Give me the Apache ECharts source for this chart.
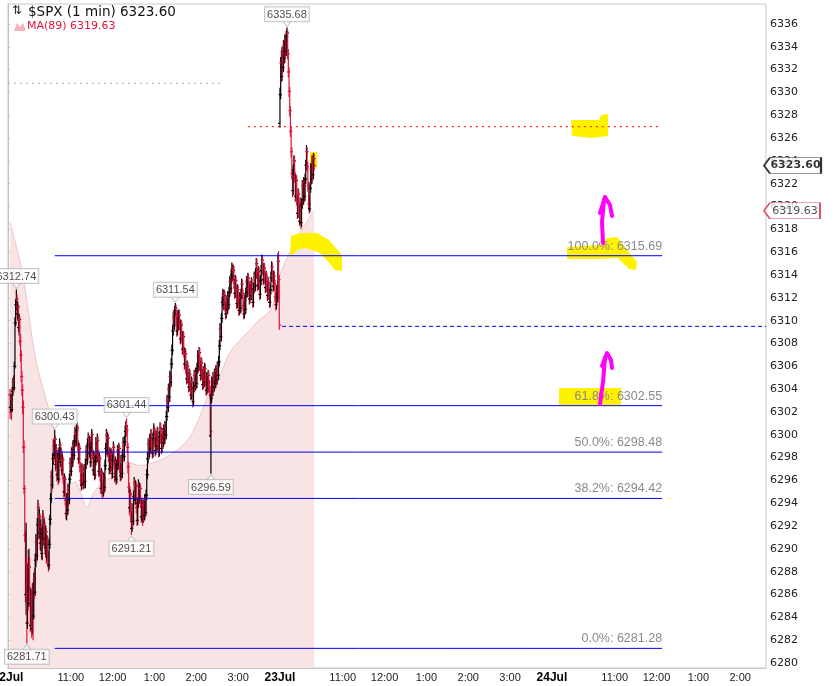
<!DOCTYPE html>
<html>
<head>
<meta charset="utf-8">
<title>$SPX (1 min)</title>
<script src="https://cdn.jsdelivr.net/npm/echarts@6/dist/echarts.min.js"></script>
<style>
html, body { margin: 0; padding: 0; background: #fff; }
#chart { width: 839px; height: 686px; }
</style>
</head>
<body>
<div id="chart"></div>
<script>
"use strict";

// minute index: 0 = Jul 22 9:30, 390 = Jul 23 9:30, 780 = Jul 24 9:30
var START_IDX = 3;
var X_MIN = 0;
var X_MAX = 1087;

// 1-min bars, [open, close, low, high], from START_IDX on
var bars = [
	[6303.5,6302.4,6301.4,6304.0],[6302.4,6303.1,6301.9,6303.6],[6303.1,6302.2,6301.3,6303.5],[6302.2,6303.8,6302.0,6304.2],
	[6303.8,6304.6,6303.4,6305.0],[6304.6,6304.1,6303.6,6305.2],[6304.1,6306.0,6303.9,6306.4],[6306.0,6309.8,6305.8,6310.3],
	[6309.8,6311.4,6309.5,6311.9],[6311.4,6311.9,6310.9,6312.74],[6311.9,6310.6,6310.2,6312.3],[6310.6,6311.2,6310.0,6311.7],
	[6311.2,6309.4,6309.0,6311.4],[6309.4,6310.1,6308.7,6310.6],[6310.1,6308.2,6307.8,6310.4],[6308.2,6307.0,6306.4,6308.8],
	[6307.0,6305.1,6304.6,6307.4],[6305.1,6303.9,6303.4,6305.6],[6303.9,6302.4,6301.8,6304.4],[6302.4,6298.9,6298.4,6303.0],
	[6298.9,6295.3,6294.8,6299.5],[6295.3,6291.2,6290.6,6295.6],[6291.2,6286.0,6285.3,6291.6],[6286.0,6288.7,6284.2,6292.3],
	[6288.7,6283.5,6281.71,6289.2],[6283.5,6287.9,6283.0,6288.6],[6287.9,6285.2,6284.6,6289.9],[6285.2,6288.4,6284.9,6290.0],
	[6288.4,6286.1,6285.5,6289.3],[6286.1,6283.3,6282.7,6286.7],[6283.3,6285.8,6282.9,6286.5],[6285.8,6283.0,6282.2,6286.2],
	[6283.0,6286.4,6282.5,6287.0],[6286.4,6284.1,6282.0,6287.1],[6284.1,6287.3,6283.8,6287.9],[6287.3,6286.2,6285.6,6288.3],
	[6286.2,6289.0,6285.9,6289.6],[6289.0,6290.6,6288.4,6291.3],[6290.6,6289.4,6288.8,6291.0],[6289.4,6292.1,6289.0,6292.7],
	[6292.1,6293.6,6291.6,6294.3],[6293.6,6291.4,6290.8,6294.0],[6291.4,6292.8,6290.9,6293.5],[6292.8,6290.5,6289.9,6293.1],
	[6290.5,6291.9,6289.8,6292.6],[6291.9,6289.6,6289.1,6292.2],[6289.6,6291.3,6289.0,6291.9],[6291.3,6292.7,6290.8,6293.4],
	[6292.7,6290.9,6290.3,6293.1],[6290.9,6292.0,6290.2,6292.6],[6292.0,6290.1,6289.5,6292.4],[6290.1,6291.5,6289.4,6292.0],
	[6291.5,6289.3,6288.7,6291.8],[6289.3,6290.6,6288.9,6291.2],[6290.6,6289.0,6288.4,6291.1],[6289.0,6288.6,6288.0,6289.8],
	[6288.6,6290.4,6288.2,6290.9],[6290.4,6292.6,6290.0,6293.0],[6292.6,6294.4,6292.1,6294.9],[6294.4,6296.3,6294.0,6296.8],
	[6296.3,6295.6,6295.0,6297.0],[6295.6,6297.9,6295.3,6298.4],[6297.9,6299.0,6297.4,6299.6],[6299.0,6298.2,6297.6,6299.7],
	[6298.2,6299.6,6297.9,6300.43],[6299.6,6297.4,6296.8,6299.9],[6297.4,6298.6,6297.0,6299.2],[6298.6,6296.5,6295.9,6298.9],
	[6296.5,6297.8,6296.1,6298.4],[6297.8,6296.1,6295.6,6298.2],[6296.1,6298.3,6295.8,6298.9],[6298.3,6299.1,6297.8,6299.7],
	[6299.1,6297.6,6297.1,6299.4],[6297.6,6298.4,6297.2,6298.9],[6298.4,6296.9,6296.4,6298.7],[6296.9,6297.8,6296.5,6298.3],
	[6297.8,6296.2,6295.7,6298.1],[6296.2,6295.0,6294.5,6296.6],[6295.0,6296.1,6294.6,6296.6],[6296.1,6294.3,6293.8,6296.4],
	[6294.3,6293.1,6292.6,6294.7],[6293.1,6294.4,6292.5,6294.9],[6294.4,6293.4,6292.9,6294.8],[6293.4,6295.2,6293.0,6295.7],
	[6295.2,6294.3,6293.8,6295.6],[6294.3,6296.1,6293.9,6296.6],[6296.1,6297.5,6295.7,6298.0],[6297.5,6296.8,6296.3,6297.9],
	[6296.8,6298.4,6296.4,6298.9],[6298.4,6297.6,6297.1,6298.8],[6297.6,6299.0,6297.2,6299.5],[6299.0,6298.2,6297.7,6299.4],
	[6298.2,6299.5,6297.8,6300.0],[6299.5,6300.2,6299.1,6300.7],[6300.2,6299.4,6298.9,6300.6],[6299.4,6300.4,6299.0,6300.9],
	[6300.4,6300.6,6299.9,6301.1],[6300.6,6299.1,6298.6,6300.9],[6299.1,6297.9,6297.4,6299.5],[6297.9,6298.8,6297.5,6299.3],
	[6298.8,6297.2,6296.7,6299.1],[6297.2,6296.0,6295.5,6297.6],[6296.0,6295.6,6295.1,6296.6],[6295.6,6297.0,6295.2,6297.5],
	[6297.0,6296.2,6295.7,6297.4],[6296.2,6295.7,6295.2,6296.7],[6295.7,6296.9,6295.3,6297.4],[6296.9,6295.9,6295.4,6297.3],
	[6295.9,6297.4,6295.3,6297.9],[6297.4,6298.6,6297.0,6299.1],[6298.6,6297.8,6297.3,6299.0],[6297.8,6299.2,6297.4,6299.7],
	[6299.2,6299.7,6298.8,6300.2],[6299.7,6298.4,6297.9,6300.0],[6298.4,6299.4,6298.0,6299.9],[6299.4,6297.6,6297.1,6299.8],
	[6297.6,6298.9,6297.2,6299.4],[6298.9,6300.0,6298.5,6300.5],[6300.0,6298.3,6297.8,6300.3],[6298.3,6296.9,6296.4,6298.7],
	[6296.9,6298.1,6296.5,6298.6],[6298.1,6296.5,6296.0,6298.4],[6296.5,6297.7,6296.1,6298.2],[6297.7,6299.2,6297.3,6299.8],
	[6299.2,6298.0,6297.5,6299.5],[6298.0,6299.5,6297.6,6300.1],[6299.5,6298.3,6297.8,6299.9],[6298.3,6296.8,6296.3,6298.7],
	[6296.8,6297.9,6296.4,6298.4],[6297.9,6296.4,6295.9,6298.2],[6296.4,6295.3,6294.8,6296.8],[6295.3,6296.6,6294.9,6297.1],
	[6296.6,6295.0,6294.5,6296.9],[6295.0,6294.9,6294.4,6295.9],[6294.9,6296.2,6294.6,6296.7],[6296.2,6295.4,6294.9,6296.6],
	[6295.4,6297.3,6295.0,6297.8],[6297.3,6298.8,6296.9,6299.3],[6298.8,6300.0,6298.3,6300.5],[6300.0,6298.6,6298.1,6300.4],
	[6298.6,6299.7,6298.2,6300.2],[6299.7,6298.1,6297.6,6300.0],[6298.1,6297.0,6296.5,6298.5],[6297.0,6298.4,6296.6,6298.9],
	[6298.4,6297.2,6296.7,6298.8],[6297.2,6298.3,6296.8,6298.8],[6298.3,6296.6,6296.1,6298.7],[6296.6,6297.8,6296.2,6298.3],
	[6297.8,6298.9,6297.4,6299.4],[6298.9,6297.5,6297.0,6299.2],[6297.5,6296.3,6295.8,6297.9],[6296.3,6297.6,6295.9,6298.1],
	[6297.6,6296.1,6295.6,6297.9],[6296.1,6297.3,6295.7,6297.8],[6297.3,6298.6,6296.9,6299.1],[6298.6,6297.4,6296.9,6298.9],
	[6297.4,6298.8,6297.0,6299.3],[6298.8,6297.1,6296.6,6299.1],[6297.1,6296.4,6295.9,6297.5],[6296.4,6297.7,6296.0,6298.2],
	[6297.7,6296.6,6296.1,6298.0],[6296.6,6298.2,6296.2,6298.7],[6298.2,6299.3,6297.8,6299.8],[6299.3,6298.1,6297.6,6299.6],
	[6298.1,6299.4,6297.7,6299.9],[6299.4,6300.3,6299.0,6300.8],[6300.3,6300.8,6299.8,6301.2],[6300.8,6300.4,6299.9,6301.44],
	[6300.4,6298.9,6298.4,6300.8],[6298.9,6297.2,6296.6,6299.3],[6297.2,6295.4,6294.9,6297.6],[6295.4,6293.6,6293.0,6295.8],
	[6293.6,6294.8,6293.2,6295.3],[6294.8,6292.9,6292.3,6295.1],[6292.9,6291.8,6291.21,6293.3],[6291.8,6293.5,6291.5,6294.0],
	[6293.5,6292.4,6291.9,6293.9],[6292.4,6294.6,6292.1,6295.1],[6294.6,6295.8,6294.2,6296.3],[6295.8,6294.3,6293.8,6296.1],
	[6294.3,6295.5,6293.9,6296.0],[6295.5,6293.6,6293.1,6295.8],[6293.6,6292.5,6292.0,6294.0],[6292.5,6294.0,6292.1,6294.5],
	[6294.0,6295.6,6293.6,6296.1],[6295.6,6294.4,6293.9,6295.9],[6294.4,6295.3,6294.0,6295.8],[6295.3,6294.1,6293.6,6295.6],
	[6294.1,6292.8,6292.3,6294.5],[6292.8,6293.9,6292.4,6294.4],[6293.9,6292.6,6292.0,6294.2],[6292.6,6293.8,6292.3,6294.3],
	[6293.8,6292.9,6292.4,6294.2],[6292.9,6294.3,6292.5,6294.8],[6294.3,6293.2,6292.7,6294.6],[6293.2,6294.7,6292.9,6295.2],
	[6294.7,6296.5,6294.3,6297.0],[6296.5,6297.9,6296.1,6298.4],[6297.9,6299.2,6297.5,6299.7],[6299.2,6298.4,6297.9,6299.6],
	[6298.4,6299.6,6298.0,6300.1],[6299.6,6298.8,6298.3,6300.0],[6298.8,6300.0,6298.4,6300.5],[6300.0,6299.2,6298.7,6300.4],
	[6299.2,6298.4,6297.9,6299.6],[6298.4,6299.7,6298.0,6300.2],[6299.7,6300.5,6299.3,6301.0],[6300.5,6299.4,6298.9,6300.8],
	[6299.4,6298.6,6298.1,6299.8],[6298.6,6299.9,6298.2,6300.4],[6299.9,6299.0,6298.5,6300.3],[6299.0,6300.2,6298.6,6300.7],
	[6300.2,6299.3,6298.8,6300.6],[6299.3,6298.5,6298.0,6299.7],[6298.5,6299.8,6298.1,6300.3],[6299.8,6300.6,6299.4,6301.1],
	[6300.6,6299.7,6299.2,6301.0],[6299.7,6298.8,6298.3,6300.1],[6298.8,6300.1,6298.4,6300.6],[6300.1,6299.3,6298.8,6300.5],
	[6299.3,6300.4,6298.9,6300.9],[6300.4,6299.6,6299.1,6300.8],[6299.6,6300.7,6299.2,6301.2],[6300.7,6300.0,6299.5,6301.1],
	[6300.0,6301.6,6299.6,6302.1],[6301.6,6303.0,6301.2,6303.5],[6303.0,6302.4,6301.9,6303.4],[6302.4,6304.0,6302.0,6304.5],
	[6304.0,6303.3,6302.8,6304.4],[6303.3,6305.1,6302.9,6305.6],[6305.1,6304.6,6304.1,6305.5],[6304.6,6306.2,6304.2,6306.7],
	[6306.2,6307.4,6305.8,6307.9],[6307.4,6309.1,6307.0,6309.6],[6309.1,6310.3,6308.7,6310.8],[6310.3,6309.6,6309.1,6310.9],
	[6309.6,6310.9,6309.2,6311.3],[6310.9,6311.1,6310.4,6311.54],[6311.1,6310.2,6309.7,6311.4],[6310.2,6309.1,6308.6,6310.6],
	[6309.1,6310.4,6308.7,6310.9],[6310.4,6309.6,6309.1,6310.8],[6309.6,6310.5,6309.2,6311.0],[6310.5,6309.7,6309.2,6310.9],
	[6309.7,6308.4,6307.9,6310.1],[6308.4,6309.6,6308.0,6310.1],[6309.6,6308.7,6308.2,6310.0],[6308.7,6307.5,6307.0,6309.1],
	[6307.5,6308.6,6307.1,6309.1],[6308.6,6307.3,6306.8,6309.0],[6307.3,6306.2,6305.7,6307.7],[6306.2,6307.1,6305.8,6307.6],
	[6307.1,6305.8,6305.3,6307.5],[6305.8,6304.9,6304.4,6306.2],[6304.9,6306.0,6304.5,6306.5],[6306.0,6305.1,6304.6,6306.4],
	[6305.1,6304.2,6303.7,6305.5],[6304.2,6305.3,6303.8,6305.8],[6305.3,6304.3,6303.8,6305.7],[6304.3,6303.5,6303.0,6304.7],
	[6303.5,6304.6,6303.1,6305.1],[6304.6,6303.8,6303.3,6305.0],[6303.8,6302.9,6302.4,6304.2],[6302.9,6304.1,6302.5,6304.6],
	[6304.1,6305.2,6303.7,6305.7],[6305.2,6304.3,6303.8,6305.6],[6304.3,6305.4,6303.9,6305.9],[6305.4,6304.5,6304.0,6305.8],
	[6304.5,6305.8,6304.1,6306.3],[6305.8,6306.9,6305.4,6307.4],[6306.9,6306.0,6305.5,6307.3],[6306.0,6307.2,6305.6,6307.7],
	[6307.2,6306.1,6305.6,6307.6],[6306.1,6305.2,6304.7,6306.5],[6305.2,6306.3,6304.8,6306.8],[6306.3,6305.3,6304.8,6306.7],
	[6305.3,6304.4,6303.9,6305.7],[6304.4,6305.5,6304.0,6306.0],[6305.5,6304.6,6304.1,6305.9],[6304.6,6305.8,6304.2,6306.3],
	[6305.8,6304.8,6304.3,6306.2],[6304.8,6303.9,6303.4,6305.2],[6303.9,6305.0,6303.5,6305.5],[6305.0,6304.1,6303.6,6305.4],
	[6304.1,6305.2,6303.7,6305.7],[6305.2,6304.2,6303.7,6305.6],[6304.2,6303.8,6303.3,6304.8],[6303.8,6300.3,6299.8,6304.2],
	[6299.9,6303.2,6296.59,6303.6],[6303.2,6304.6,6302.8,6305.1],[6304.6,6303.8,6303.3,6305.0],[6303.8,6305.0,6303.4,6305.5],
	[6305.0,6304.2,6303.7,6305.4],[6304.2,6305.3,6303.8,6305.8],[6305.3,6304.5,6304.0,6305.7],[6304.5,6305.6,6304.1,6306.1],
	[6305.6,6304.8,6304.3,6306.0],[6304.8,6305.9,6304.4,6306.4],[6305.9,6305.2,6304.7,6306.3],[6305.2,6306.4,6304.8,6306.9],
	[6306.4,6307.8,6306.0,6308.3],[6307.8,6309.3,6307.4,6309.8],[6309.3,6308.6,6308.1,6309.7],[6308.6,6310.2,6308.2,6310.7],
	[6310.2,6311.6,6309.8,6312.1],[6311.6,6312.3,6311.2,6312.8],[6312.3,6311.4,6310.9,6312.7],[6311.4,6312.2,6311.0,6312.7],
	[6312.2,6311.3,6310.8,6312.6],[6311.3,6310.6,6310.1,6311.7],[6310.6,6311.7,6310.2,6312.2],[6311.7,6311.0,6310.5,6312.1],
	[6311.0,6312.1,6310.6,6312.6],[6312.1,6311.4,6310.9,6312.5],[6311.4,6312.5,6311.0,6313.0],[6312.5,6313.4,6312.1,6313.9],
	[6313.4,6312.8,6312.3,6313.8],[6312.8,6314.0,6312.4,6314.5],[6314.0,6314.6,6313.6,6315.1],[6314.6,6313.9,6313.4,6315.0],
	[6313.9,6314.4,6313.5,6314.9],[6314.4,6313.3,6312.8,6314.8],[6313.3,6312.4,6311.9,6313.7],[6312.4,6313.5,6312.0,6314.0],
	[6313.5,6312.6,6312.1,6313.9],[6312.6,6311.5,6311.0,6313.0],[6311.5,6312.7,6311.1,6313.2],[6312.7,6311.8,6311.3,6313.1],
	[6311.8,6310.9,6310.4,6312.2],[6310.9,6312.0,6310.5,6312.5],[6312.0,6311.1,6310.6,6312.4],[6311.1,6312.3,6310.7,6312.8],
	[6312.3,6313.2,6311.9,6313.7],[6313.2,6312.4,6311.9,6313.6],[6312.4,6311.3,6310.8,6312.8],[6311.3,6310.6,6310.1,6311.7],
	[6310.6,6311.8,6310.2,6312.3],[6311.8,6311.0,6310.5,6312.2],[6311.0,6312.4,6310.6,6312.9],[6312.4,6313.4,6312.0,6313.9],
	[6313.4,6312.5,6312.0,6313.8],[6312.5,6313.7,6312.1,6314.2],[6313.7,6312.8,6312.3,6314.1],[6312.8,6311.9,6311.4,6313.2],
	[6311.9,6313.0,6311.5,6313.5],[6313.0,6312.2,6311.7,6313.4],[6312.2,6313.3,6311.8,6313.8],[6313.3,6312.4,6311.9,6313.7],
	[6312.4,6311.6,6311.1,6312.8],[6311.6,6312.8,6311.2,6313.3],[6312.8,6313.8,6312.4,6314.3],[6313.8,6313.0,6312.5,6314.2],
	[6313.0,6314.1,6312.6,6314.6],[6314.1,6315.0,6313.7,6315.5],[6315.0,6314.2,6313.7,6315.4],[6314.2,6313.1,6312.6,6314.6],
	[6313.1,6314.3,6312.7,6314.8],[6314.3,6313.4,6312.9,6314.7],[6313.4,6312.3,6311.8,6313.8],[6312.3,6313.5,6311.9,6314.0],
	[6313.5,6314.4,6313.1,6314.9],[6314.4,6315.3,6314.0,6315.8],[6315.3,6314.5,6314.0,6315.7],[6314.5,6313.6,6313.1,6314.9],
	[6313.6,6314.6,6313.2,6315.1],[6314.6,6313.8,6313.3,6315.0],[6313.8,6312.9,6312.4,6314.2],[6312.9,6313.9,6312.5,6314.4],
	[6313.9,6313.1,6312.6,6314.3],[6313.1,6312.2,6311.7,6313.5],[6312.2,6313.3,6311.8,6313.8],[6313.3,6312.4,6311.9,6313.7],
	[6312.4,6311.6,6311.1,6312.8],[6311.6,6312.7,6311.2,6313.2],[6312.7,6313.8,6312.3,6314.3],[6313.8,6314.7,6313.4,6315.2],
	[6314.7,6313.9,6313.4,6315.1],[6313.9,6313.0,6312.5,6314.3],[6313.0,6313.9,6312.6,6314.4],[6313.9,6313.2,6312.7,6314.3],
	[6313.2,6312.1,6311.6,6313.6],[6312.1,6311.4,6310.9,6312.5],[6311.4,6312.6,6311.0,6313.1],[6312.6,6312.0,6311.5,6313.0],
	[6312.0,6315.2,6311.6,6315.9],[6315.2,6313.6,6311.8,6316.1],[6313.6,6309.6,6309.2,6314.0],
	// Jul 23
	[6327.3,6329.8,6326.9,6330.4],[6329.8,6332.6,6329.4,6333.1],[6332.6,6331.4,6330.9,6333.7],[6331.4,6333.5,6331.0,6334.0],
	[6333.5,6332.2,6331.7,6333.9],[6332.2,6334.1,6331.8,6334.6],[6334.1,6333.0,6332.5,6334.5],[6333.0,6334.6,6332.6,6335.1],
	[6334.6,6333.6,6333.1,6335.0],[6333.6,6334.9,6333.2,6335.4],[6334.9,6335.2,6334.5,6335.68],[6335.2,6333.4,6332.9,6335.5],
	[6333.4,6331.8,6331.3,6333.8],[6331.8,6330.1,6329.6,6332.2],[6330.1,6328.4,6327.9,6330.5],[6328.4,6326.6,6326.1,6328.8],
	[6326.6,6324.8,6324.3,6327.0],[6324.8,6322.9,6322.4,6325.2],[6322.9,6321.4,6320.8,6323.3],[6321.4,6323.2,6321.0,6323.7],
	[6323.2,6324.0,6322.8,6324.5],[6324.0,6322.6,6322.1,6324.4],[6322.6,6320.9,6320.4,6323.0],[6320.9,6322.3,6320.5,6322.8],
	[6322.3,6320.6,6320.1,6322.7],[6320.6,6319.4,6318.9,6321.0],[6319.4,6321.1,6319.0,6321.6],[6321.1,6319.8,6319.3,6321.5],
	[6319.8,6318.7,6318.3,6320.2],[6318.7,6320.3,6318.4,6320.8],[6320.3,6318.6,6318.0,6320.7],[6318.6,6320.2,6318.2,6320.7],
	[6320.2,6321.8,6319.8,6322.3],[6321.8,6320.6,6320.1,6322.2],[6320.6,6322.1,6320.2,6322.6],[6322.1,6320.9,6320.4,6322.5],
	[6320.9,6322.4,6320.5,6322.9],[6322.4,6323.6,6322.0,6324.1],[6323.6,6324.8,6323.2,6325.4],[6324.8,6323.5,6323.0,6325.2],
	[6323.5,6321.8,6321.3,6323.9],[6321.8,6320.2,6319.7,6322.2],[6320.2,6319.8,6319.4,6321.0],[6319.8,6321.6,6319.5,6322.1],
	[6321.6,6323.3,6321.2,6323.8],[6323.3,6322.4,6321.9,6323.7],[6322.4,6324.0,6322.0,6324.5],[6324.0,6322.8,6322.3,6324.4],
	[6322.8,6324.2,6322.4,6324.7],[6324.2,6323.6,6323.1,6324.6]
];

var maIdx  = [3, 20, 40, 55, 65, 72, 89, 96, 105, 113, 122, 132, 150, 170, 190, 210, 232, 261, 289, 304, 318, 333, 347, 361, 375, 383, 390, 404, 418, 432, 439];
var maVals = [6318.6, 6314.4, 6306.5, 6303.0, 6300.8, 6297.6, 6295.6, 6295.9, 6294.8, 6293.6, 6294.8, 6295.6, 6296.4, 6297.6, 6297.3, 6297.6, 6298.2, 6299.8, 6303.7, 6305.2, 6307.2, 6308.3, 6309.2, 6310.1, 6310.8, 6312.0, 6314.0, 6316.0, 6317.6, 6319.0, 6319.63];

// fibonacci retracement
var fibPct    = [100.0, 61.8, 50.0, 38.2, 0.0];
var fibLevels = [6315.69, 6302.55, 6298.48, 6294.42, 6281.28];
var FIB_FROM = 67, FIB_TO = 938;

// other drawn levels
var redDotLevel = 6327.0, RED_FROM = 344, RED_TO = 935;
var blueDashLevel = 6309.5, BLUE_FROM = 393;
var grayDotLevel = 6330.8, GRAY_TO = 304;

// labelled highs and lows [minute index, price]
var highCallouts = [[12, 6312.74], [67, 6300.43], [170, 6301.44], [240, 6311.54], [400, 6335.68]];
var lowCallouts  = [[27, 6281.71], [177, 6291.21], [291, 6296.59]];

// axis ticks
var tickIdx  = [0, 90, 150, 210, 270, 330, 390, 480, 540, 600, 660, 720, 780, 870, 930, 990, 1050];
var tickText = ['22Jul', '11:00', '12:00', '1:00', '2:00', '3:00', '23Jul', '11:00', '12:00', '1:00', '2:00', '3:00', '24Jul', '11:00', '12:00', '1:00', '2:00'];
var yTicks = [6280, 6282, 6284, 6286, 6288, 6290, 6292, 6294, 6296, 6298, 6300, 6302, 6304, 6306, 6308, 6310, 6312, 6314, 6316, 6318, 6320, 6322, 6324, 6326, 6328, 6330, 6332, 6334, 6336];

var UP_COLOR = '#000000';
var DOWN_COLOR = '#e0143c';
var LEVEL_BLUE = '#0000ff';
var MARKER_YELLOW = '#fff200';
var ARROW_MAGENTA = '#ff00ff';

var barData = [];
for (var i = 0; i < bars.length; i++) {
	barData.push([START_IDX + i].concat(bars[i]));
}
var maData = [];
for (var j = 0; j < maIdx.length; j++) {
	maData.push([maIdx[j], maVals[j]]);
}
var lastClose = bars[bars.length - 1][1];
var lastMa = maVals[maVals.length - 1];

function renderBar(params, api) {
	var x = api.value(0);
	var o = api.value(1), c = api.value(2), l = api.value(3), h = api.value(4);
	var pH = api.coord([x, h]);
	var pL = api.coord([x, l]);
	var pO = api.coord([x, o]);
	var pC = api.coord([x, c]);
	var color = c >= o ? UP_COLOR : DOWN_COLOR;
	var st = { stroke: color, lineWidth: 1.2 };
	return {
		type: 'group',
		children: [
			{ type: 'line', shape: { x1: pH[0], y1: pH[1], x2: pL[0], y2: pL[1] }, style: st },
			{ type: 'line', shape: { x1: pO[0] - 2, y1: pO[1], x2: pO[0], y2: pO[1] }, style: st },
			{ type: 'line', shape: { x1: pC[0], y1: pC[1], x2: pC[0] + 2, y2: pC[1] }, style: st }
		]
	};
}

// a horizontal level drawn as a two-point line series, optional label at its right end
function levelSeries(from, to, level, lineStyle, text) {
	var end = { value: [to, level] };
	if (text) {
		end.label = {
			show: true,
			position: [0, -3],
			align: 'right',
			verticalAlign: 'bottom',
			formatter: text,
			color: '#8a8a8a',
			fontFamily: 'Liberation Sans',
			fontSize: 12.5
		};
	}
	return {
		type: 'line',
		zlevel: 1,
		z: 5,
		silent: true,
		data: [[from, level], end],
		symbol: 'circle',
		symbolSize: 0,
		showSymbol: true,
		label: { show: false },
		lineStyle: lineStyle,
		emphasis: { disabled: true }
	};
}

var calloutLabel = {
	show: true,
	formatter: function(p) { return p.value[1].toFixed(2); },
	backgroundColor: '#ffffff',
	borderColor: '#b8b8b8',
	borderWidth: 1,
	padding: [2, 2, 1, 2],
	color: '#222',
	fontFamily: 'Liberation Sans',
	fontSize: 11
};

var series = [
	{
		name: 'MA(89)',
		type: 'line',
		zlevel: 0,
		z: 1,
		data: maData,
		showSymbol: false,
		smooth: 0.3,
		lineStyle: { color: '#efc6c9', width: 1 },
		areaStyle: { color: '#f8e4e4', opacity: 1, origin: 'start' }
	},
	{
		name: '$SPX',
		type: 'custom',
		zlevel: 1,
		z: 3,
		clip: true,
		renderItem: renderBar,
		encode: { x: 0, y: [1, 2, 3, 4] },
		data: barData
	}
];

for (var k = 0; k < fibLevels.length; k++) {
	series.push(levelSeries(FIB_FROM, FIB_TO, fibLevels[k],
		{ color: LEVEL_BLUE, width: 1, type: 'solid' },
		fibPct[k].toFixed(1) + '%: ' + fibLevels[k].toFixed(2)));
}
series.push(levelSeries(RED_FROM, RED_TO, redDotLevel, { color: '#ff0000', width: 1, type: [2, 4] }));
series.push(levelSeries(BLUE_FROM, X_MAX, blueDashLevel, { color: LEVEL_BLUE, width: 1, type: [4, 3] }));
series.push(levelSeries(X_MIN, GRAY_TO, grayDotLevel, { color: '#b0b0b0', width: 1, type: [2, 4] }));

series.push({
	name: 'highs',
	type: 'scatter',
	zlevel: 1,
	z: 6,
	clip: false,
	silent: true,
	data: highCallouts,
	symbol: 'triangle',
	symbolSize: [9, 6],
	symbolRotate: 180,
	symbolOffset: [0, -4],
	itemStyle: { color: '#ffffff', borderColor: '#b8b8b8', borderWidth: 1 },
	label: Object.assign({ position: 'top', distance: -1 }, calloutLabel)
});
series.push({
	name: 'lows',
	type: 'scatter',
	zlevel: 1,
	z: 6,
	clip: false,
	silent: true,
	data: lowCallouts,
	symbol: 'triangle',
	symbolSize: [9, 6],
	symbolOffset: [0, 4],
	itemStyle: { color: '#ffffff', borderColor: '#b8b8b8', borderWidth: 1 },
	label: Object.assign({ position: 'bottom', distance: -1 }, calloutLabel)
});
series.push({
	name: 'lastPrice',
	type: 'scatter',
	zlevel: 2,
	z: 8,
	clip: false,
	silent: true,
	data: [[X_MAX, lastClose]],
	symbol: 'path://M0,8L6,0L57,0L57,16L6,16Z',
	symbolSize: [57, 16],
	symbolKeepAspect: false,
	symbolOffset: [26.5, 0],
	itemStyle: { color: '#ffffff', borderColor: '#000000', borderWidth: 1.2 },
	label: {
		show: true, position: 'inside', offset: [3, 0],
		formatter: lastClose.toFixed(2),
		color: '#000', fontWeight: 'bold', fontFamily: 'DejaVu Sans', fontSize: 11
	}
});
series.push({
	name: 'lastMa',
	type: 'scatter',
	zlevel: 2,
	z: 8,
	clip: false,
	silent: true,
	data: [[X_MAX, lastMa]],
	symbol: 'path://M0,8L6,0L57,0L57,16L6,16Z',
	symbolSize: [56, 16],
	symbolKeepAspect: false,
	symbolOffset: [26, 0],
	itemStyle: { color: '#ffffff', borderColor: DOWN_COLOR, borderWidth: 1 },
	label: {
		show: true, position: 'inside', offset: [3, 0],
		formatter: lastMa.toFixed(2),
		color: '#222', fontFamily: 'DejaVu Sans', fontSize: 11
	}
});

var chart = echarts.init(document.getElementById('chart'));

chart.setOption({
	animation: false,
	backgroundColor: '#ffffff',
	grid: {
		left: 8, right: 73, top: 4, bottom: 18,
		outerBoundsMode: 'none',
		containLabel: false,
		show: true, borderColor: '#c8c8c8', borderWidth: 1
	},
	xAxis: {
		type: 'value',
		min: X_MIN,
		max: X_MAX,
		axisLine: { show: true, lineStyle: { color: '#c8c8c8' } },
		axisTick: { show: false },
		splitLine: { show: false },
		axisLabel: {
			customValues: tickIdx,
			margin: 4,
			color: '#222',
			fontFamily: 'Liberation Sans',
			fontSize: 11,
			formatter: function(v) {
				var t = tickText[tickIdx.indexOf(v)] || '';
				return t.indexOf('Jul') > 0 ? '{d|' + t + '}' : t;
			},
			rich: {
				d: { fontWeight: 'bold', fontSize: 12, color: '#000', fontFamily: 'Liberation Sans' }
			}
		}
	},
	yAxis: {
		type: 'value',
		position: 'right',
		min: 6279.56,
		max: 6337.75,
		axisLine: { show: true, lineStyle: { color: '#c0c0c0' } },
		axisTick: { show: true, length: 2, customValues: yTicks, lineStyle: { color: '#c0c0c0' } },
		splitLine: { show: false },
		axisLabel: {
			customValues: yTicks,
			margin: 4,
			color: '#222',
			fontFamily: 'DejaVu Sans',
			fontSize: 11,
			formatter: function(v) { return String(v); }
		}
	},
	series: series,
	graphic: [
		// legend
		{ type: 'text', left: 12, top: 5, zlevel: 2, style: { text: '\u21C5', font: '12px "DejaVu Sans"', fill: '#222' } },
		{ type: 'text', left: 28, top: 5, zlevel: 2, style: { text: '$SPX (1 min) ' + lastClose.toFixed(2), font: '13.5px "DejaVu Sans"', fill: '#111' } },
		{ type: 'polygon', zlevel: 2, shape: { points: [[14, 31], [17, 23], [20, 27], [23, 23], [26, 31]] }, style: { fill: '#f2b3bd' } },
		{ type: 'text', left: 27, top: 21, zlevel: 2, style: { text: 'MA(89) ' + lastMa.toFixed(2), font: '11px "DejaVu Sans"', fill: DOWN_COLOR } },

		// yellow highlighter marks (above the shaded MA, under bars and lines)
		{ type: 'polygon', zlevel: 0, z: 10, shape: { points: [[571, 120], [599, 120], [601, 115], [608, 114], [608, 136], [592, 138], [572, 136]] }, style: { fill: MARKER_YELLOW } },
		{ type: 'polygon', zlevel: 0, z: 10, shape: { points: [[290, 256], [291, 236], [300, 233], [317, 233], [329, 240], [342, 255], [342, 271], [335, 270], [326, 259], [318, 252], [305, 248], [297, 250], [292, 256]] }, style: { fill: MARKER_YELLOW } },
		{ type: 'polygon', zlevel: 0, z: 10, shape: { points: [[567, 247], [600, 245], [607, 238], [617, 237], [623, 245], [637, 262], [636, 270], [629, 269], [618, 258], [600, 259], [567, 259]] }, style: { fill: MARKER_YELLOW } },
		{ type: 'rect', zlevel: 0, z: 10, shape: { x: 559, y: 388, width: 62, height: 17 }, style: { fill: MARKER_YELLOW } },
		{ type: 'rect', zlevel: 0, z: 10, shape: { x: 310, y: 152, width: 7, height: 16 }, style: { fill: MARKER_YELLOW } },

		// magenta arrows
		{ type: 'polyline', zlevel: 2, shape: { points: [[603, 243], [602, 222], [604, 200]] }, style: { stroke: ARROW_MAGENTA, lineWidth: 4, fill: null, lineCap: 'round' } },
		{ type: 'polyline', zlevel: 2, shape: { points: [[600, 213], [605, 197], [610, 205], [612, 216]] }, style: { stroke: ARROW_MAGENTA, lineWidth: 4, fill: null, lineCap: 'round', lineJoin: 'round' } },
		{ type: 'polyline', zlevel: 2, shape: { points: [[600, 404], [603, 382], [605, 358]] }, style: { stroke: ARROW_MAGENTA, lineWidth: 4, fill: null, lineCap: 'round' } },
		{ type: 'polyline', zlevel: 2, shape: { points: [[602, 366], [607, 353], [611, 360], [612, 368]] }, style: { stroke: ARROW_MAGENTA, lineWidth: 4, fill: null, lineCap: 'round', lineJoin: 'round' } }
	]
});
</script>
</body>
</html>
